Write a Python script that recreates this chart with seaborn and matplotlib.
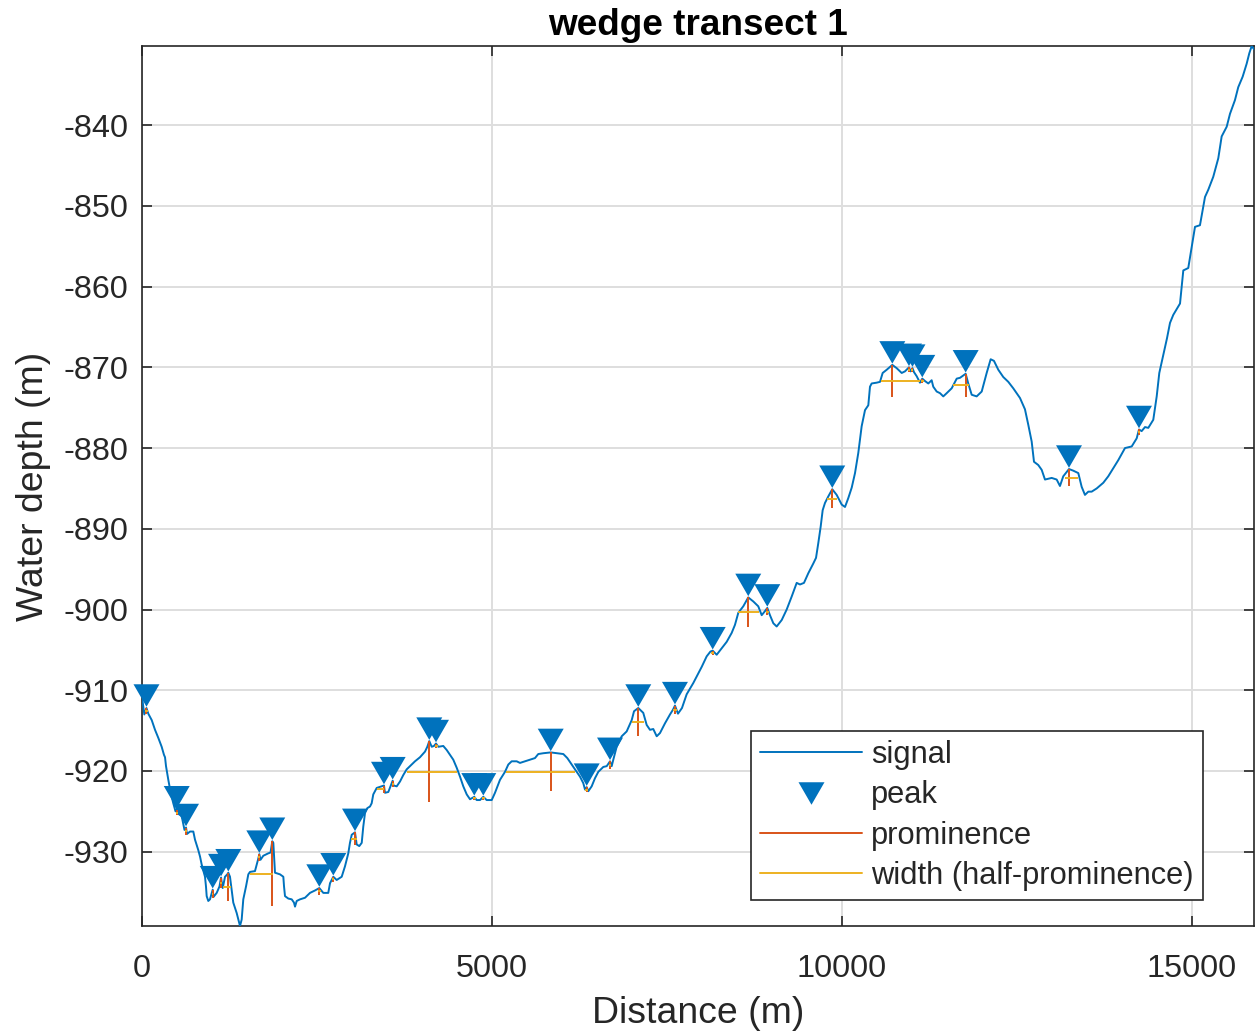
import numpy as np
import pandas as pd
import matplotlib
matplotlib.use("Agg")
import matplotlib.pyplot as plt
from matplotlib.lines import Line2D
from matplotlib.transforms import offset_copy
import seaborn as sns

# ---------------- data ----------------
distance = [0, 33, 64, 90, 139, 186, 233, 281, 314, 329, 343, 376, 410, 447, 479, 496, 519, 567,
            607, 629, 643, 686, 733, 757, 804, 829, 853, 900, 914, 924, 947, 971, 996, 1010, 1021,
            1067, 1107, 1129, 1153, 1186, 1219, 1233, 1257, 1281, 1304, 1353, 1400, 1424, 1447,
            1486, 1519, 1543, 1614, 1657, 1676, 1693, 1733, 1804, 1836, 1861, 1876, 1900, 1971,
            2019, 2029, 2043, 2090, 2139, 2171, 2186, 2210, 2257, 2329, 2400, 2471, 2533, 2590,
            2661, 2686, 2733, 2781, 2853, 2900, 2947, 2971, 2996, 3043, 3067, 3104, 3139, 3161,
            3186, 3219, 3257, 3281, 3304, 3353, 3424, 3457, 3471, 3519, 3581, 3593, 3639, 3686,
            3733, 3781, 3829, 3900, 3971, 4043, 4076, 4104, 4139, 4171, 4200, 4233, 4304, 4353,
            4400, 4447, 4496, 4543, 4590, 4639, 4686, 4747, 4781, 4829, 4876, 4924, 4996, 5043,
            5114, 5186, 5233, 5281, 5353, 5400, 5471, 5543, 5614, 5661, 5733, 5839, 5924, 6019,
            6076, 6139, 6210, 6257, 6304, 6329, 6353, 6376, 6424, 6471, 6519, 6590, 6639, 6686,
            6710, 6733, 6781, 6853, 6924, 6996, 7029, 7090, 7161, 7210, 7257, 7304, 7353, 7400,
            7471, 7543, 7586, 7614, 7657, 7714, 7781, 7876, 7947, 7996, 8067, 8121, 8153, 8210,
            8281, 8353, 8424, 8471, 8519, 8590, 8661, 8733, 8804, 8853, 8900, 8933, 8971, 9019,
            9067, 9139, 9210, 9281, 9353, 9400, 9457, 9519, 9590, 9629, 9661, 9696, 9724, 9757,
            9804, 9861, 9924, 9996, 10043, 10090, 10139, 10186, 10233, 10281, 10329, 10376,
            10400, 10424, 10496, 10543, 10581, 10639, 10719, 10781, 10853, 10900, 10957, 10979,
            11007, 11029, 11067, 11114, 11147, 11186, 11233, 11281, 11304, 11353, 11400, 11447,
            11496, 11567, 11639, 11686, 11767, 11804, 11853, 11924, 11996, 12067, 12124, 12171,
            12233, 12304, 12376, 12447, 12543, 12614, 12661, 12710, 12743, 12804, 12853, 12900,
            12996, 13067, 13114, 13161, 13243, 13304, 13376, 13424, 13471, 13519, 13567, 13639,
            13733, 13804, 13876, 13947, 14043, 14139, 14210, 14243, 14281, 14329, 14376, 14447,
            14496, 14533, 14590, 14643, 14686, 14733, 14829, 14876, 14947, 15043, 15114, 15186,
            15233, 15304, 15376, 15424, 15496, 15543, 15614, 15661, 15724, 15781, 15819, 15853,
            15886]

depth = [-910.8, -913.0, -912.2, -912.9, -913.7, -914.9, -915.9, -917.0, -918.0, -918.3, -919.4,
         -921.1, -922.7, -924.0, -925.0, -924.8, -925.3, -925.6, -927.3, -927.0, -927.8, -927.5,
         -927.5, -928.5, -929.8, -930.6, -931.6, -933.1, -934.3, -935.5, -936.1, -935.9, -935.1,
         -934.7, -935.6, -935.1, -934.3, -933.2, -934.5, -933.1, -932.8, -932.6, -933.1, -934.7,
         -936.3, -937.6, -939.2, -938.4, -935.9, -934.3, -932.8, -932.5, -932.4, -931.0, -930.3,
         -931.0, -930.5, -930.2, -930.1, -928.7, -928.9, -932.6, -932.8, -933.1, -934.3, -935.5,
         -935.8, -935.9, -936.3, -936.8, -936.1, -935.9, -935.7, -935.1, -934.8, -934.5, -935.1,
         -935.1, -933.9, -933.1, -933.5, -933.1, -931.8, -930.2, -928.9, -927.9, -927.6, -929.1,
         -929.3, -928.9, -926.9, -925.2, -924.6, -924.4, -924.0, -922.9, -922.1, -921.9, -921.8,
         -922.7, -922.6, -921.2, -921.8, -921.9, -921.3, -920.5, -919.8, -919.4, -918.8, -918.3,
         -917.6, -917.0, -916.3, -917.0, -916.9, -916.6, -917.0, -916.9, -917.4, -918.0, -918.6,
         -919.6, -920.7, -921.9, -922.9, -923.5, -923.2, -923.6, -923.6, -923.2, -923.6, -923.6,
         -922.7, -921.1, -920.1, -919.2, -918.8, -918.8, -919.0, -918.8, -918.6, -918.4, -917.9,
         -917.8, -917.7, -917.8, -917.9, -918.4, -919.2, -920.1, -920.7, -921.5, -922.3, -922.0,
         -922.5, -921.9, -920.9, -920.1, -919.5, -919.4, -918.8, -919.4, -918.6, -917.0, -915.7,
         -915.1, -913.7, -912.6, -912.2, -912.8, -914.3, -914.9, -914.8, -915.7, -915.3, -914.1,
         -913.0, -912.4, -911.9, -912.9, -912.2, -910.5, -909.1, -907.9, -907.1, -905.8, -905.2,
         -905.1, -905.6, -904.8, -904.0, -902.9, -901.9, -900.4, -899.6, -898.5, -899.0, -899.6,
         -900.7, -900.2, -899.8, -900.7, -901.7, -902.1, -901.3, -900.0, -898.4, -896.7, -896.9,
         -896.7, -895.5, -894.3, -893.6, -891.8, -889.7, -887.7, -886.8, -886.0, -885.1, -885.8,
         -887.0, -887.3, -886.2, -884.9, -883.1, -880.6, -877.3, -875.3, -874.7, -872.4, -872.0,
         -871.9, -871.8, -870.7, -870.3, -869.7, -870.1, -870.7, -870.5, -870.0, -870.5, -870.1,
         -870.6, -871.1, -871.9, -871.4, -871.7, -872.0, -871.6, -872.4, -873.0, -873.2, -873.6,
         -873.2, -872.6, -871.4, -871.3, -870.8, -872.0, -873.4, -873.6, -873.0, -870.7, -869.0,
         -869.2, -870.3, -871.2, -871.8, -872.6, -873.8, -875.2, -877.1, -879.2, -881.7, -882.1,
         -882.7, -883.9, -883.7, -883.9, -884.7, -883.5, -882.6, -882.8, -883.1, -884.8, -885.8,
         -885.4, -885.4, -885.0, -884.3, -883.5, -882.5, -881.5, -880.0, -879.8, -878.8, -877.7,
         -877.9, -877.4, -877.5, -876.5, -873.6, -870.7, -868.5, -866.4, -864.5, -863.5, -862.1,
         -858.0, -857.7, -852.6, -852.4, -848.9, -848.0, -846.4, -844.1, -841.4, -840.2, -838.6,
         -836.9, -835.3, -834.0, -832.4, -831.1, -830.2, -830.6]

peak_loc = [64, 496, 629, 1010, 1129, 1233, 1676, 1861, 2533, 2733, 3043, 3457, 3581, 4104, 4200,
            4747, 4876, 5839, 6353, 6686, 7090, 7614, 8153, 8661, 8933, 9861, 10719, 10957, 11007,
            11147, 11767, 13243, 14243]
peak_val = [-912.2, -924.8, -927.0, -934.7, -933.2, -932.6, -930.3, -928.7, -934.5, -933.1, -927.6,
            -921.8, -921.2, -916.3, -916.6, -923.2, -923.2, -917.7, -922.0, -918.8, -912.2, -911.9,
            -905.1, -898.5, -899.8, -885.1, -869.7, -870.0, -870.1, -871.4, -870.8, -882.6, -877.7]
prominence = [0.8, 0.7, 0.9, 1.0, 1.3, 3.5, 0.8, 8.0, 0.8, 0.6, 1.6, 0.9, 0.8, 7.55, 0.5, 0.4, 0.4,
              4.83, 0.6, 0.9, 3.5, 1.0, 0.5, 3.7, 0.9, 2.3, 4.0, 0.6, 0.5, 0.5, 2.85, 2.15, 0.7]
width_left = [45, 482, 612, 996, 1115, 1161, 1660, 1543, 2510, 2715, 2981, 3353, 3565, 3781, 4180,
              4730, 4860, 5200, 6335, 6670, 7000, 7590, 8130, 8519, 8915, 9781, 10553, 10940,
              10990, 11130, 11590, 13186, 14225]
width_right = [85, 510, 640, 1020, 1143, 1267, 1690, 1876, 2560, 2750, 3067, 3460, 3595, 4496, 4225,
               4765, 4895, 6186, 6370, 6705, 7171, 7640, 8175, 8819, 8955, 9924, 11114, 10975,
               11020, 11165, 11819, 13376, 14260]

title_text = "wedge transect 1"
x_label = "Distance (m)"
y_label = "Water depth (m)"
x_ticks = [0, 5000, 10000, 15000]
y_ticks = list(range(-930, -839, 10))
legend_labels = ["signal", "peak", "prominence", "width (half-prominence)"]

# ---------------- style ----------------
sns.set_style("white")
plt.rcParams["font.family"] = ["Liberation Sans", "DejaVu Sans"]
plt.rcParams["axes.unicode_minus"] = False

C_SIG = "#0072BD"
C_PROM = "#D95319"
C_WID = "#EDB120"
C_AX = "#262626"

fig = plt.figure(figsize=(12.56, 10.36), dpi=100)
ax = fig.add_axes([142 / 1256, 1 - 926 / 1036, 1112 / 1256, 880 / 1036])

sig_df = pd.DataFrame({"distance": distance, "depth": depth})
sns.lineplot(data=sig_df, x="distance", y="depth", ax=ax, color=C_SIG, lw=1.4,
             sort=False, estimator=None, zorder=3)

# peak markers: triangle with tip resting on the peak
tri = [(-1, 0.866), (1, 0.866), (0, -0.866)]
ms = 18.7
pk_df = pd.DataFrame({"loc": peak_loc, "val": peak_val})
shift = offset_copy(ax.transData, fig=fig, x=0, y=9.0, units="points")
sns.scatterplot(data=pk_df, x="loc", y="val", ax=ax, marker=tri, s=ms ** 2,
                color=C_SIG, edgecolor="none", linewidth=0, transform=shift, zorder=4,
                clip_on=False)

pl = np.array(peak_loc, dtype=float)
pv = np.array(peak_val, dtype=float)
pr = np.array(prominence, dtype=float)
ax.vlines(pl, pv - pr, pv, color=C_PROM, lw=1.4, zorder=5)
ax.hlines(pv - pr / 2, width_left, width_right, color=C_WID, lw=1.4, zorder=6)

ax.set_xlim(distance[0], distance[-1])
ax.set_ylim(min(depth), max(depth))
ax.set_xticks(x_ticks)
ax.set_xticklabels([str(t) for t in x_ticks])
ax.set_yticks(y_ticks)
ax.set_yticklabels([str(t) for t in y_ticks])

ax.grid(True, color="#dedede", lw=1.4)
ax.set_axisbelow(True)
for s in ax.spines.values():
    s.set_color(C_AX)
    s.set_linewidth(1.2)
    s.set_visible(True)
ax.tick_params(direction="in", length=7, width=1.2, color=C_AX, labelcolor=C_AX,
               labelsize=23.3, top=True, right=True, bottom=True, left=True)
ax.tick_params(axis="x", pad=20)
ax.tick_params(axis="y", pad=10)

ax.set_xlabel(x_label, fontsize=26.9, color=C_AX, labelpad=9)
ax.set_ylabel(y_label, fontsize=26.9, color=C_AX, labelpad=9)
ax.set_title(title_text, fontsize=26.6, fontweight="bold", color="black", pad=8)

handles = [
    Line2D([], [], color=C_SIG, lw=1.4),
    Line2D([], [], color=C_SIG, marker=tri, markersize=ms, linestyle="none", markeredgewidth=0),
    Line2D([], [], color=C_PROM, lw=1.4),
    Line2D([], [], color=C_WID, lw=1.4),
]
leg = ax.legend(handles, legend_labels, loc="lower right",
                bbox_to_anchor=((1203 - 142) / 1112, (926 - 900) / 880), borderaxespad=0,
                fontsize=22.2, frameon=True, fancybox=False, framealpha=1, edgecolor=C_AX,
                handlelength=3.3, handletextpad=0.3, labelspacing=0.33, borderpad=0.3)
leg.get_frame().set_linewidth(1.2)
leg.set_zorder(10)

fig.savefig("out.png", dpi=100)
